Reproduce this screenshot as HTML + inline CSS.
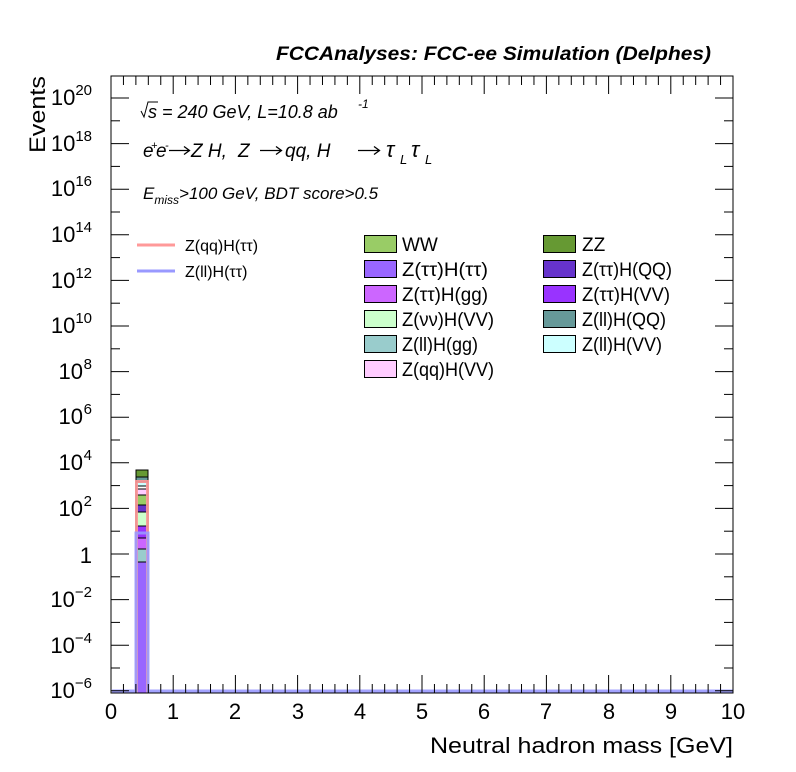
<!DOCTYPE html>
<html><head><meta charset="utf-8"><style>
body{margin:0;background:#fff}
svg{display:block}
text{font-family:"Liberation Sans",sans-serif;fill:#000}
</style></head><body>
<svg width="796" height="772" viewBox="0 0 796 772">
<rect width="796" height="772" fill="#fff"/>
<g stroke="#000" stroke-width="1">
<rect x="136" y="549" width="12" height="144" fill="#9966ff" stroke="none"/>
<rect x="136" y="549" width="12" height="13" fill="#99cccc"/>
<rect x="136" y="538" width="12" height="11" fill="#cc66ff"/>
<rect x="136" y="526" width="12" height="12" fill="#9933ff"/>
<rect x="136" y="512" width="12" height="14" fill="#ccffcc"/>
<rect x="136" y="505" width="12" height="7" fill="#6633cc"/>
<rect x="136" y="495" width="12" height="10" fill="#99cc66"/>
<rect x="136" y="489" width="12" height="6" fill="#ffccff"/>
<rect x="136" y="486" width="12" height="3" fill="#ffffff"/>
<rect x="136" y="482" width="12" height="4" fill="#ccffff"/>
<rect x="136" y="477" width="12" height="5" fill="#669999"/>
<rect x="136" y="470" width="12" height="7" fill="#669933"/>
</g>
<path d="M136.5 693 V481.5 H147.5 V693" fill="none" stroke="#ff9999" stroke-width="3" opacity="0.9"/>
<path d="M112 691 H136 V533 H148 V691 H733" fill="none" stroke="#9999ff" stroke-width="3" opacity="0.9"/>
<rect x="111" y="76" width="622" height="617" fill="none" stroke="#000" stroke-width="1"/>
<g stroke="#000" stroke-width="1" id="ticks"></g>
<g font-size="22" text-anchor="end">
<text x="92" y="105">10<tspan font-size="15" dy="-10">20</tspan></text>
<text x="92" y="151">10<tspan font-size="15" dy="-10">18</tspan></text>
<text x="92" y="196">10<tspan font-size="15" dy="-10">16</tspan></text>
<text x="92" y="242">10<tspan font-size="15" dy="-10">14</tspan></text>
<text x="92" y="288">10<tspan font-size="15" dy="-10">12</tspan></text>
<text x="92" y="333">10<tspan font-size="15" dy="-10">10</tspan></text>
<text x="83" y="379">10</text><text x="92" y="369" font-size="15">8</text>
<text x="83" y="424">10</text><text x="92" y="414" font-size="15">6</text>
<text x="83" y="470">10</text><text x="92" y="460" font-size="15">4</text>
<text x="83" y="516">10</text><text x="92" y="506" font-size="15">2</text>
<text x="92" y="563">1</text>
<text x="92" y="607">10<tspan font-size="15" dy="-10">−2</tspan></text>
<text x="92" y="653">10<tspan font-size="15" dy="-10">−4</tspan></text>
<text x="92" y="698">10<tspan font-size="15" dy="-10">−6</tspan></text>
</g>
<g font-size="22" text-anchor="middle">
<text x="111" y="719">0</text><text x="173" y="719">1</text><text x="235" y="719">2</text><text x="298" y="719">3</text><text x="360" y="719">4</text><text x="422" y="719">5</text><text x="484" y="719">6</text><text x="546" y="719">7</text><text x="609" y="719">8</text><text x="671" y="719">9</text><text x="733" y="719">10</text>
</g>
<text x="430" y="753" font-size="22" textLength="303" lengthAdjust="spacingAndGlyphs">Neutral hadron mass [GeV]</text>
<text transform="translate(45,153) rotate(-90)" font-size="22" textLength="77" lengthAdjust="spacingAndGlyphs">Events</text>
<text x="276" y="60" font-size="19" font-weight="bold" font-style="italic" textLength="435" lengthAdjust="spacingAndGlyphs">FCCAnalyses: FCC-ee Simulation (Delphes)</text>
<g font-size="18" font-style="italic">
<path d="M141 111 l3 6 l4 -15 h10" fill="none" stroke="#000" stroke-width="1"/>
<text x="148" y="118">s = 240 GeV, L=10.8 ab</text><text x="358" y="108" font-size="12">-1</text>
<g font-size="19">
<text x="143" y="157">e</text><text x="151" y="149" font-size="11">+</text>
<text x="156" y="157">e</text><text x="165" y="149" font-size="11">-</text>
<text x="191" y="157">Z H,</text>
<text x="238" y="157">Z</text>
<text x="285" y="157">qq, H</text>
<text x="386" y="157" font-size="22">τ</text><text x="400" y="164" font-size="13">L</text>
<text x="411" y="157" font-size="22">τ</text><text x="425" y="164" font-size="13">L</text>
</g>
<text x="143" y="199" font-size="17">E<tspan font-size="12" dy="5">miss</tspan><tspan dy="-5">&gt;100 GeV, BDT score&gt;0.5</tspan></text>
</g>
<g fill="none" stroke="#000" stroke-width="1.3">
<path d="M169 150.5 H189 M184 146.5 L189.5 150.5 L184 154.5"/>
<path d="M260 150.5 H281 M276 146.5 L281.5 150.5 L276 154.5"/>
<path d="M358 150.5 H379 M374 146.5 L379.5 150.5 L374 154.5"/>
</g>
<line x1="137" y1="245" x2="175" y2="245" stroke="#ff9999" stroke-width="3"/>
<line x1="137" y1="271" x2="175" y2="271" stroke="#9999ff" stroke-width="3"/>
<g font-size="16">
<text x="185" y="251">Z(qq)H(ττ)</text>
<text x="185" y="277">Z(ll)H(ττ)</text>
</g>
<g stroke="#000" stroke-width="1">
<rect x="364.5" y="235.5" width="32" height="17" fill="#99cc66"/>
<rect x="364.5" y="260.5" width="32" height="17" fill="#9966ff"/>
<rect x="364.5" y="285.5" width="32" height="17" fill="#cc66ff"/>
<rect x="364.5" y="310.5" width="32" height="17" fill="#ccffcc"/>
<rect x="364.5" y="335.5" width="32" height="17" fill="#99cccc"/>
<rect x="364.5" y="360.5" width="32" height="17" fill="#ffccff"/>
<rect x="543.5" y="235.5" width="32" height="17" fill="#669933"/>
<rect x="543.5" y="260.5" width="32" height="17" fill="#6633cc"/>
<rect x="543.5" y="285.5" width="32" height="17" fill="#9933ff"/>
<rect x="543.5" y="310.5" width="32" height="17" fill="#669999"/>
<rect x="543.5" y="335.5" width="32" height="17" fill="#ccffff"/>
</g>
<g font-size="19">
<text x="402" y="251">WW</text><text x="402" y="276" textLength="86" lengthAdjust="spacingAndGlyphs">Z(ττ)H(ττ)</text><text x="402" y="301" textLength="86" lengthAdjust="spacingAndGlyphs">Z(ττ)H(gg)</text><text x="402" y="326" textLength="92" lengthAdjust="spacingAndGlyphs">Z(νν)H(VV)</text><text x="402" y="351" textLength="76" lengthAdjust="spacingAndGlyphs">Z(ll)H(gg)</text><text x="402" y="376" textLength="92" lengthAdjust="spacingAndGlyphs">Z(qq)H(VV)</text>
<text x="582" y="251">ZZ</text><text x="582" y="276" textLength="90" lengthAdjust="spacingAndGlyphs">Z(ττ)H(QQ)</text><text x="582" y="301" textLength="88" lengthAdjust="spacingAndGlyphs">Z(ττ)H(VV)</text><text x="582" y="326" textLength="84" lengthAdjust="spacingAndGlyphs">Z(ll)H(QQ)</text><text x="582" y="351" textLength="80" lengthAdjust="spacingAndGlyphs">Z(ll)H(VV)</text>
</g>
</svg>
<script>
var g=document.getElementById('ticks'),s='';
function L(a,b,c,d){s+='<line x1="'+a+'" y1="'+b+'" x2="'+c+'" y2="'+d+'"/>';}
for(var d=-6;d<=20;d+=2){var y=554-22.8*d;L(111,y,129,y);L(733,y,715,y);
 var y2=y-22.8; if(y2>76){L(111,y2,120,y2);L(733,y2,724,y2);}}
for(var i=0;i<=50;i++){var x=111+i*12.44;var h=(i%5==0)?18:9;L(x,693,x,693-h);L(x,76,x,76+h);}
g.innerHTML=s;
</script>
</body></html>
